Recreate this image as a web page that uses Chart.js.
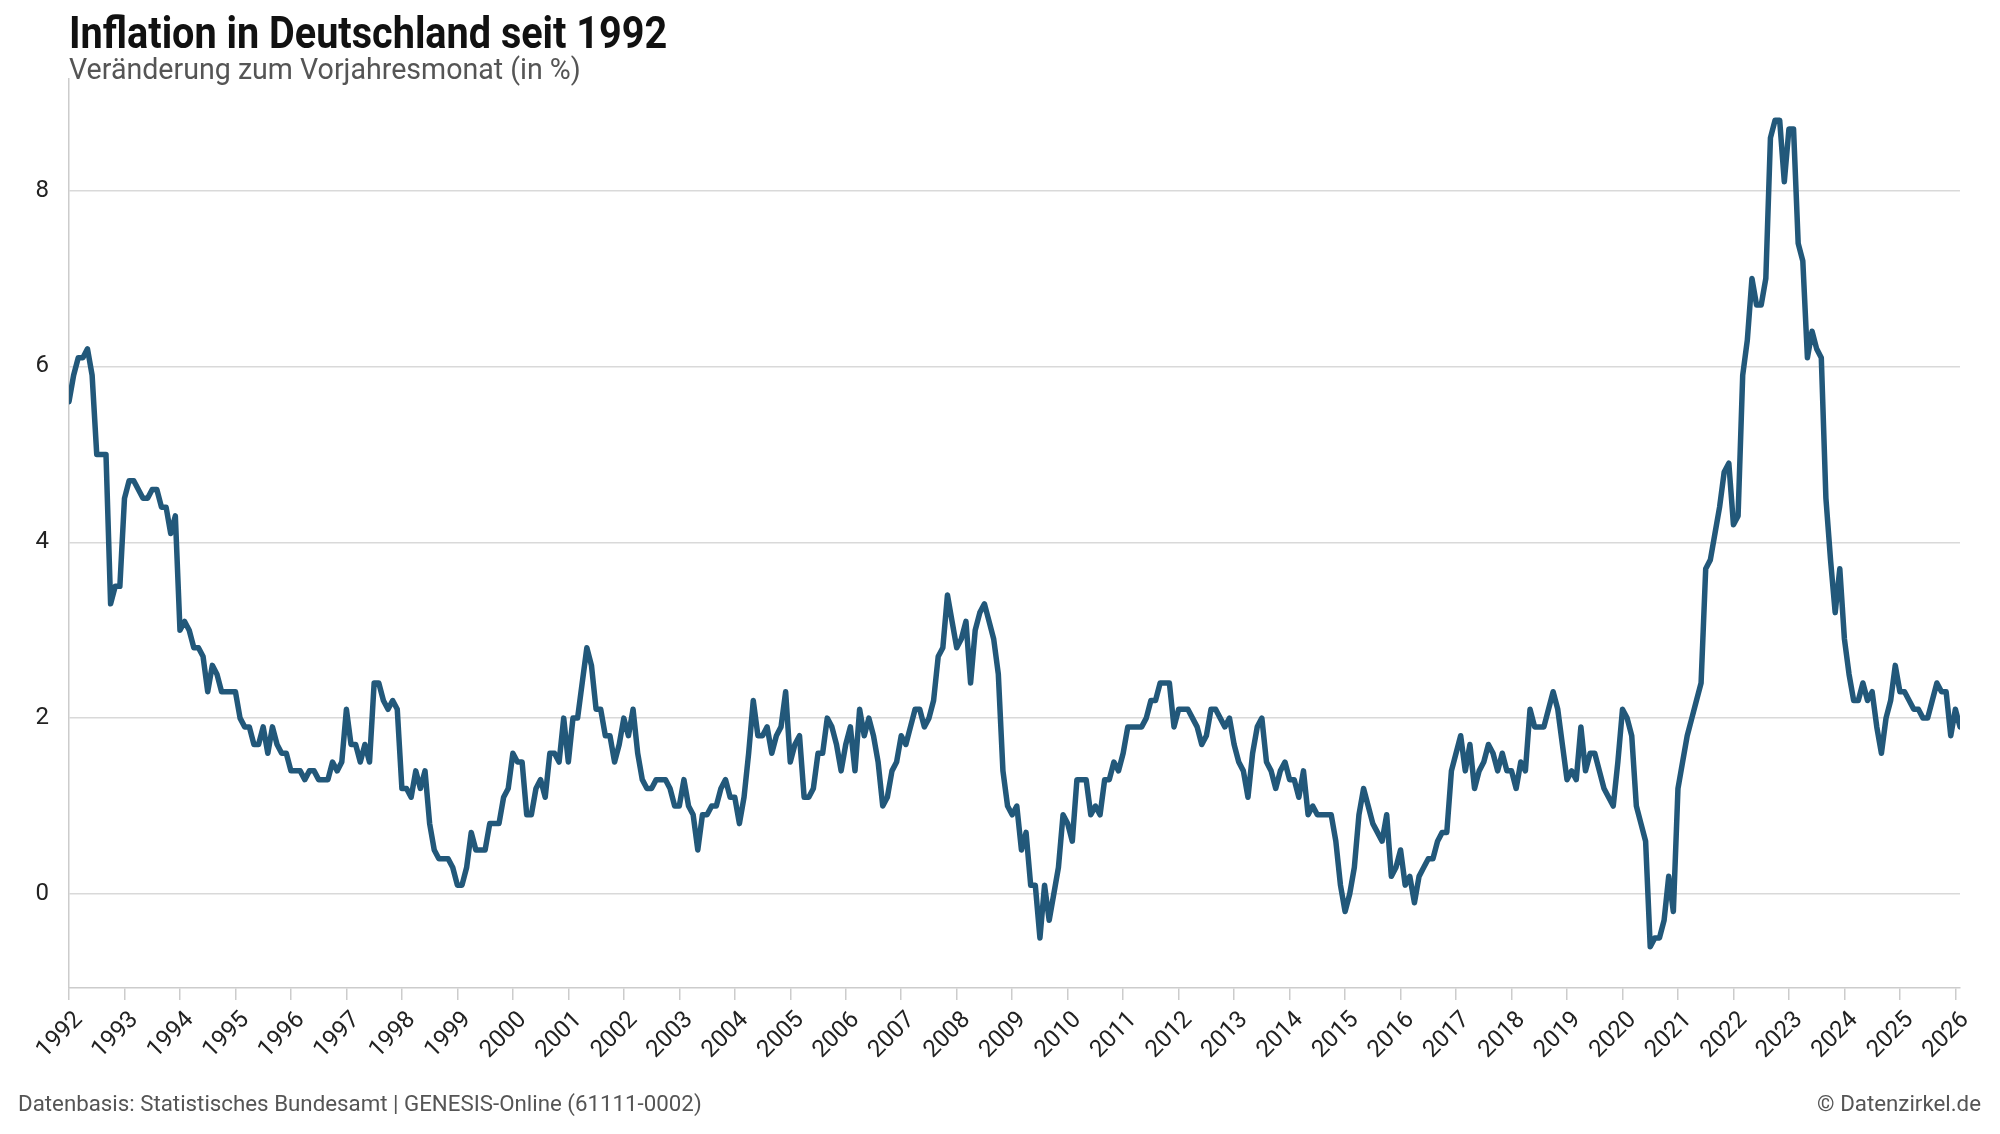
<!DOCTYPE html>
<html>
<head>
<meta charset="utf-8">
<script src="https://cdn.jsdelivr.net/npm/chart.js@4.4.1/dist/chart.umd.min.js"></script>
<style>
  body { margin: 0; background: #fff; }
  #wrap { position: relative; width: 2000px; height: 1134px; overflow: hidden; }
  #myChart { position: absolute; left: 0; top: 0; }
  .txt { position: absolute; white-space: nowrap; font-family: Roboto, sans-serif; transform-origin: left top; }
  #title { left: 69px; top: 7px; font-size: 44px; font-weight: bold; color: #111; transform: scaleX(0.90); }
  #subtitle { left: 69px; top: 52px; font-size: 28.6px; color: #555; }
  #source { left: 18px; top: 1090px; font-size: 22.3px; color: #555; }
  #credit { right: 19px; top: 1090px; font-size: 22.3px; color: #555; }
</style>
</head>
<body>
<div id="wrap">
  <canvas id="myChart" width="2000" height="1134"></canvas>
  <div class="txt" id="title">Inflation in Deutschland seit 1992</div>
  <div class="txt" id="subtitle">Veränderung zum Vorjahresmonat (in %)</div>
  <div class="txt" id="source">Datenbasis: Statistisches Bundesamt | GENESIS-Online (61111-0002)</div>
  <div class="txt" id="credit">© Datenzirkel.de</div>
</div>
<script>
'use strict'
// Veränderung zum Vorjahresmonat in %, Jan 1992 bis Feb 2026 (eine Zeile pro Jahr)
let firstYear = 1992;
let inflation = [
  5.6, 5.9, 6.1, 6.1, 6.2, 5.9, 5.0, 5.0, 5.0, 3.3, 3.5, 3.5,   // 1992
  4.5, 4.7, 4.7, 4.6, 4.5, 4.5, 4.6, 4.6, 4.4, 4.4, 4.1, 4.3,   // 1993
  3.0, 3.1, 3.0, 2.8, 2.8, 2.7, 2.3, 2.6, 2.5, 2.3, 2.3, 2.3,   // 1994
  2.3, 2.0, 1.9, 1.9, 1.7, 1.7, 1.9, 1.6, 1.9, 1.7, 1.6, 1.6,   // 1995
  1.4, 1.4, 1.4, 1.3, 1.4, 1.4, 1.3, 1.3, 1.3, 1.5, 1.4, 1.5,   // 1996
  2.1, 1.7, 1.7, 1.5, 1.7, 1.5, 2.4, 2.4, 2.2, 2.1, 2.2, 2.1,   // 1997
  1.2, 1.2, 1.1, 1.4, 1.2, 1.4, 0.8, 0.5, 0.4, 0.4, 0.4, 0.3,   // 1998
  0.1, 0.1, 0.3, 0.7, 0.5, 0.5, 0.5, 0.8, 0.8, 0.8, 1.1, 1.2,   // 1999
  1.6, 1.5, 1.5, 0.9, 0.9, 1.2, 1.3, 1.1, 1.6, 1.6, 1.5, 2.0,   // 2000
  1.5, 2.0, 2.0, 2.4, 2.8, 2.6, 2.1, 2.1, 1.8, 1.8, 1.5, 1.7,   // 2001
  2.0, 1.8, 2.1, 1.6, 1.3, 1.2, 1.2, 1.3, 1.3, 1.3, 1.2, 1.0,   // 2002
  1.0, 1.3, 1.0, 0.9, 0.5, 0.9, 0.9, 1.0, 1.0, 1.2, 1.3, 1.1,   // 2003
  1.1, 0.8, 1.1, 1.6, 2.2, 1.8, 1.8, 1.9, 1.6, 1.8, 1.9, 2.3,   // 2004
  1.5, 1.7, 1.8, 1.1, 1.1, 1.2, 1.6, 1.6, 2.0, 1.9, 1.7, 1.4,   // 2005
  1.7, 1.9, 1.4, 2.1, 1.8, 2.0, 1.8, 1.5, 1.0, 1.1, 1.4, 1.5,   // 2006
  1.8, 1.7, 1.9, 2.1, 2.1, 1.9, 2.0, 2.2, 2.7, 2.8, 3.4, 3.1,   // 2007
  2.8, 2.9, 3.1, 2.4, 3.0, 3.2, 3.3, 3.1, 2.9, 2.5, 1.4, 1.0,   // 2008
  0.9, 1.0, 0.5, 0.7, 0.1, 0.1, -0.5, 0.1, -0.3, 0.0, 0.3, 0.9, // 2009
  0.8, 0.6, 1.3, 1.3, 1.3, 0.9, 1.0, 0.9, 1.3, 1.3, 1.5, 1.4,   // 2010
  1.6, 1.9, 1.9, 1.9, 1.9, 2.0, 2.2, 2.2, 2.4, 2.4, 2.4, 1.9,   // 2011
  2.1, 2.1, 2.1, 2.0, 1.9, 1.7, 1.8, 2.1, 2.1, 2.0, 1.9, 2.0,   // 2012
  1.7, 1.5, 1.4, 1.1, 1.6, 1.9, 2.0, 1.5, 1.4, 1.2, 1.4, 1.5,   // 2013
  1.3, 1.3, 1.1, 1.4, 0.9, 1.0, 0.9, 0.9, 0.9, 0.9, 0.6, 0.1,   // 2014
  -0.2, 0.0, 0.3, 0.9, 1.2, 1.0, 0.8, 0.7, 0.6, 0.9, 0.2, 0.3,  // 2015
  0.5, 0.1, 0.2, -0.1, 0.2, 0.3, 0.4, 0.4, 0.6, 0.7, 0.7, 1.4,  // 2016
  1.6, 1.8, 1.4, 1.7, 1.2, 1.4, 1.5, 1.7, 1.6, 1.4, 1.6, 1.4,   // 2017
  1.4, 1.2, 1.5, 1.4, 2.1, 1.9, 1.9, 1.9, 2.1, 2.3, 2.1, 1.7,   // 2018
  1.3, 1.4, 1.3, 1.9, 1.4, 1.6, 1.6, 1.4, 1.2, 1.1, 1.0, 1.5,   // 2019
  2.1, 2.0, 1.8, 1.0, 0.8, 0.6, -0.6, -0.5, -0.5, -0.3, 0.2, -0.2, // 2020
  1.2, 1.5, 1.8, 2.0, 2.2, 2.4, 3.7, 3.8, 4.1, 4.4, 4.8, 4.9,   // 2021
  4.2, 4.3, 5.9, 6.3, 7.0, 6.7, 6.7, 7.0, 8.6, 8.8, 8.8, 8.1,   // 2022
  8.7, 8.7, 7.4, 7.2, 6.1, 6.4, 6.2, 6.1, 4.5, 3.8, 3.2, 3.7,   // 2023
  2.9, 2.5, 2.2, 2.2, 2.4, 2.2, 2.3, 1.9, 1.6, 2.0, 2.2, 2.6,   // 2024
  2.3, 2.3, 2.2, 2.1, 2.1, 2.0, 2.0, 2.2, 2.4, 2.3, 2.3, 1.8,   // 2025
  2.1, 1.9                                                      // 2026
];
let yearLabels = [];
for (let y = 1992; y <= 2026; y++) {
  yearLabels.push(y);
}
let yTicks = [0, 2, 4, 6, 8];

let lineColor = '#22587a';
let gridColor = '#d9d9d9';
let tickFont = { family: 'Roboto', size: 24 };

// Punkte: x = Monatsindex ab Jan 1992
let points = [];
for (let i = 0; i < inflation.length; i++) {
  points.push({ x: i, y: inflation[i] });
}

let ctx = document.getElementById('myChart').getContext('2d');
let chart = new Chart(ctx, {
  type: 'line',
  data: {
    datasets: [{
      data: points,
      borderColor: lineColor,
      borderWidth: 5.5,
      pointRadius: 0,
      tension: 0,
      borderJoinStyle: 'round',
      borderCapStyle: 'round'
    }]
  },
  options: {
    responsive: false,
    animation: false,
    devicePixelRatio: 1,
    layout: { padding: { left: 0, right: 40, top: 79, bottom: 46 } },
    plugins: { legend: { display: false }, tooltip: { enabled: false } },
    scales: {
      x: {
        type: 'linear',
        min: 0,
        max: inflation.length - 1,
        afterBuildTicks: function (scale) {
          scale.ticks = yearLabels.map(function (y, k) { return { value: k * 12 }; });
        },
        afterFit: function (scale) { scale.height = 100; },
        ticks: {
          callback: function (value) { return String(firstYear + Math.round(value / 12)); },
          maxRotation: 45,
          minRotation: 45,
          autoSkip: false,
          font: tickFont,
          color: '#222',
          padding: 6,
          labelOffset: 10
        },
        grid: { drawOnChartArea: false, drawTicks: true, tickLength: 12, color: '#cccccc', lineWidth: 1.5 },
        border: { display: true, color: '#cccccc', width: 1.5 }
      },
      y: {
        min: -1.07,
        max: 9.27,
        afterBuildTicks: function (scale) {
          scale.ticks = yTicks.map(function (v) { return { value: v }; });
        },
        afterFit: function (scale) { scale.width = 69; },
        ticks: { font: tickFont, color: '#222', padding: 20 },
        grid: { color: gridColor, lineWidth: 1.5, drawTicks: false },
        border: { display: true, color: '#cccccc', width: 1.5 }
      }
    }
  }
});
</script>
</body>
</html>
